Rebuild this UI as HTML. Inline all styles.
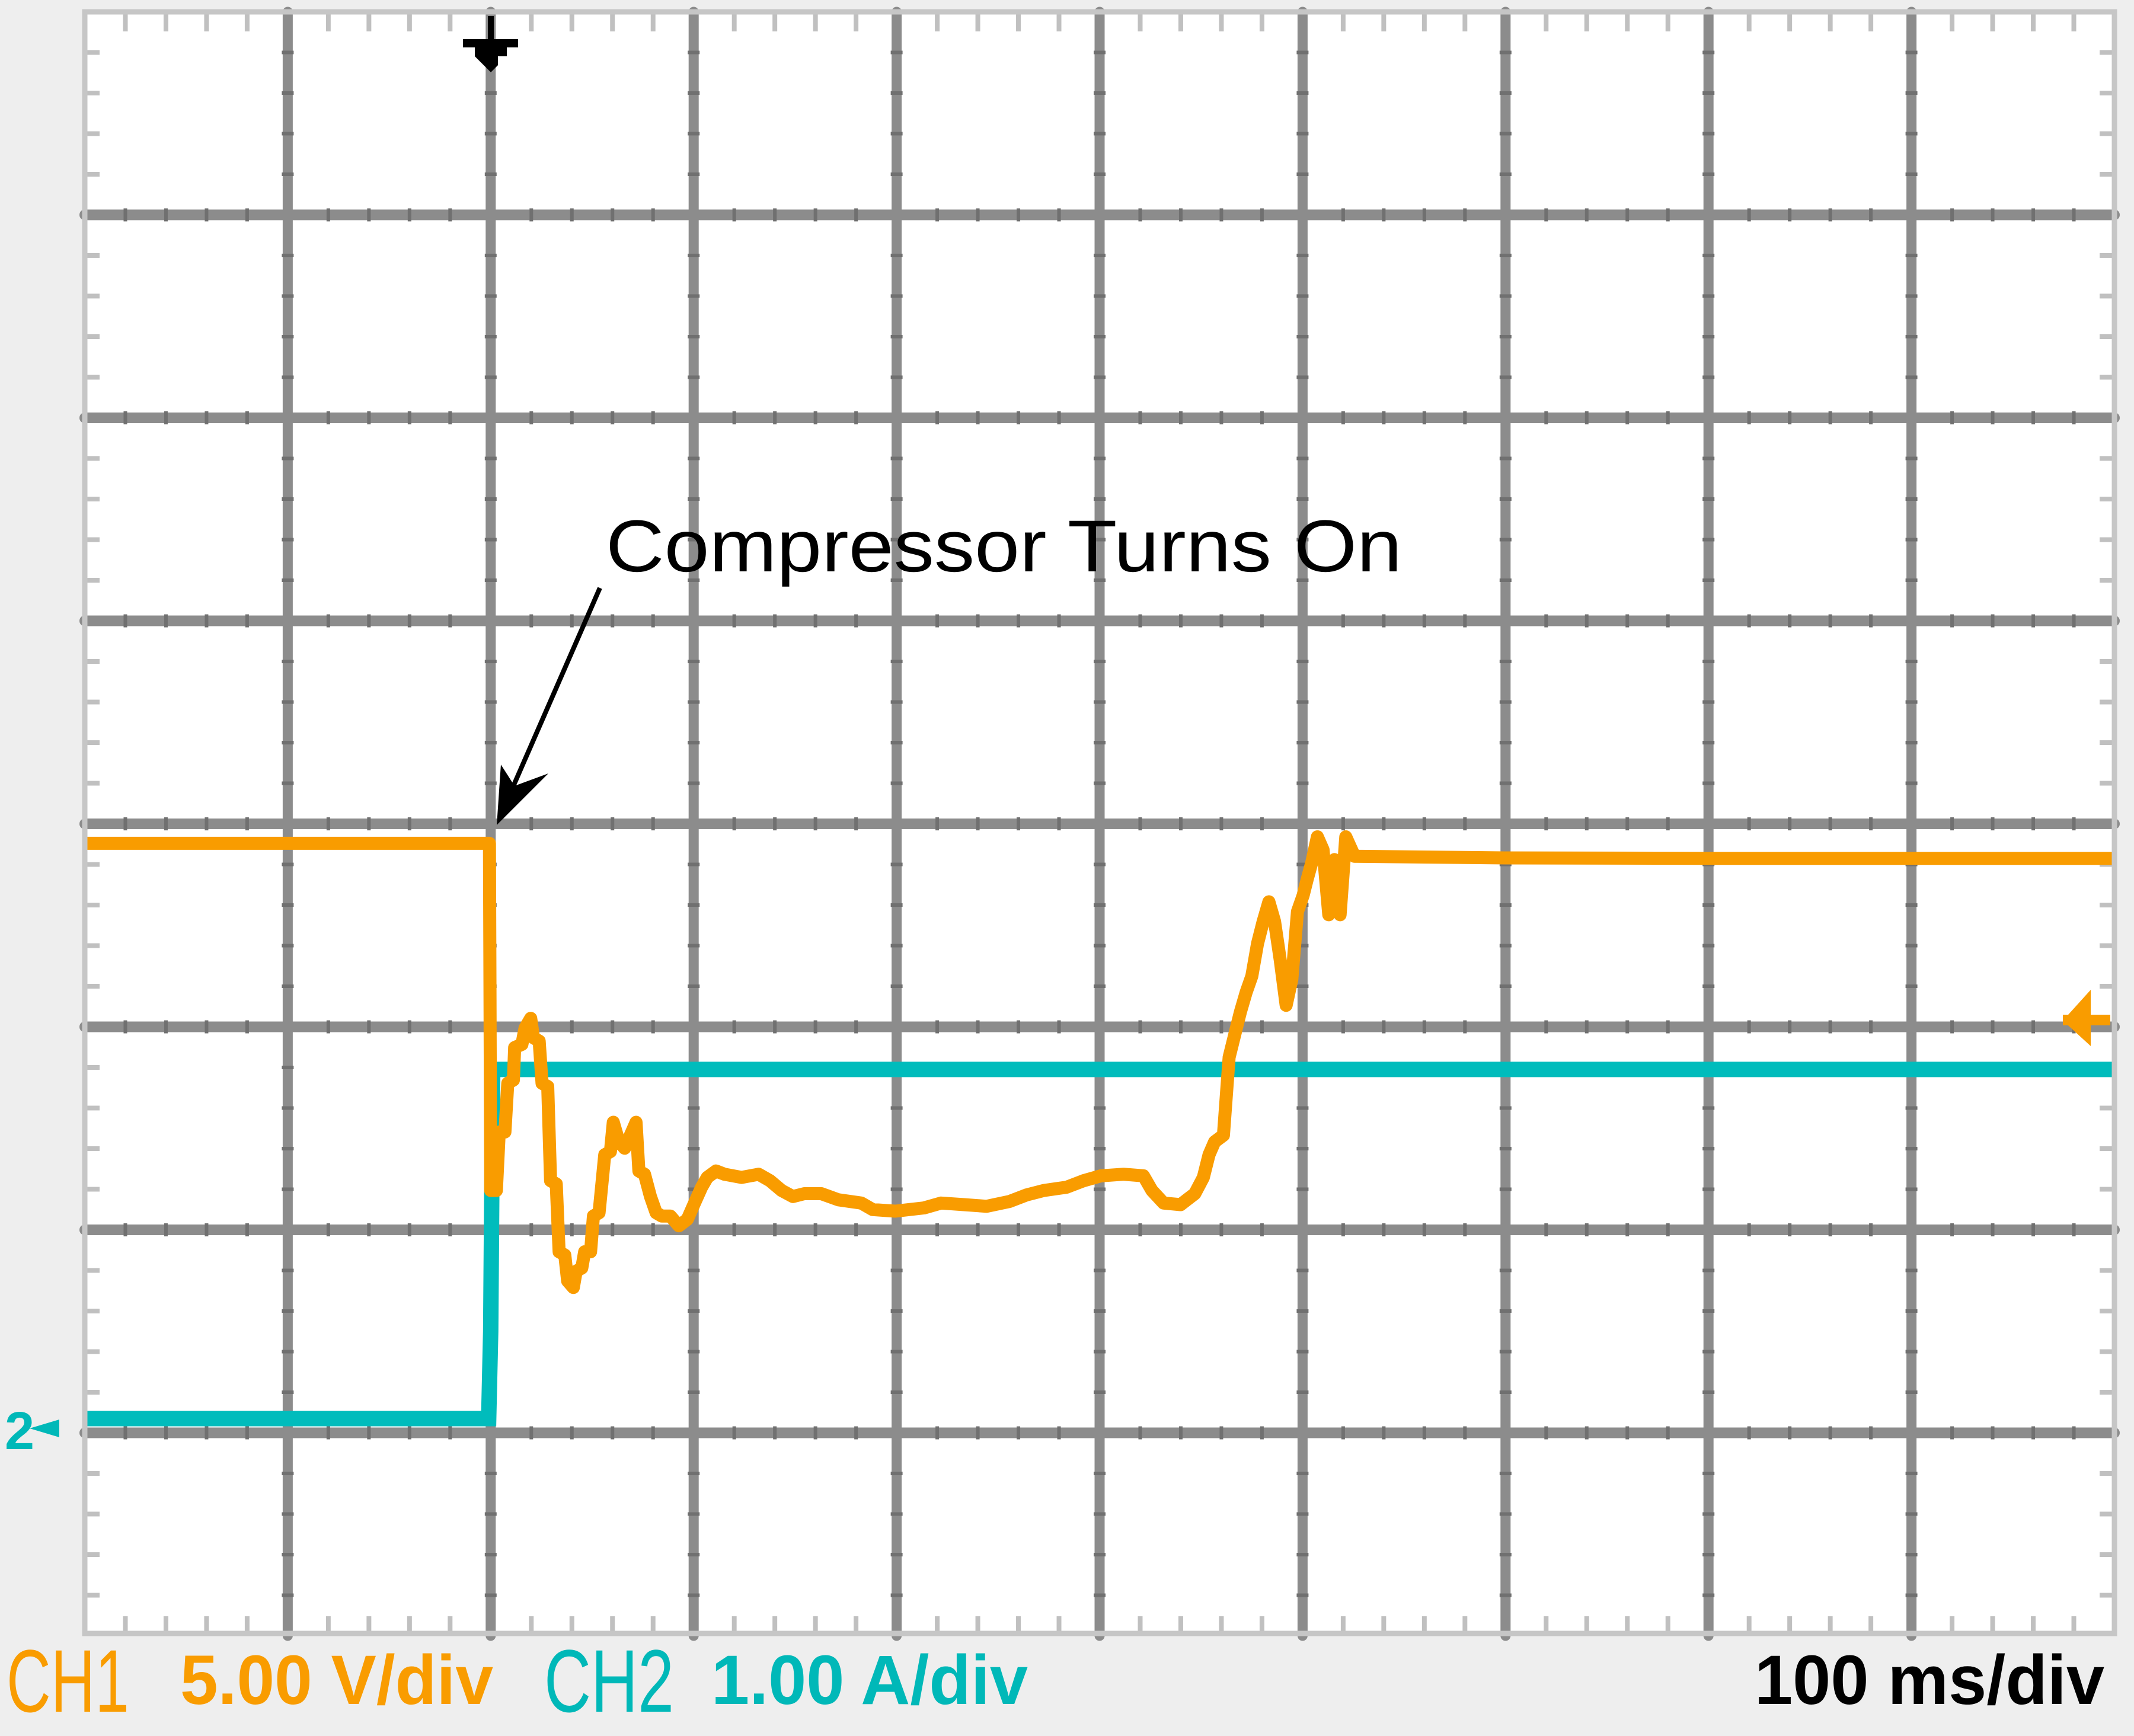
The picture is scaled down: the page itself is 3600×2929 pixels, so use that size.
<!DOCTYPE html>
<html><head><meta charset="utf-8"><style>
html,body{margin:0;padding:0;background:#eeeeee;}
svg{display:block;}
</style></head>
<body>
<svg id="scope" width="3600" height="2929" viewBox="0 0 3600 2929" xmlns="http://www.w3.org/2000/svg">
<rect x="0" y="0" width="3600" height="2929" fill="#eeeeee"/>
<rect x="143" y="20" width="3424" height="2736" fill="#ffffff"/>
<g id="grid"></g>
<g id="traces"></g>
<rect x="143" y="20" width="3424" height="2736" fill="none" stroke="#c6c6c6" stroke-width="9"/>
<g>
<line x1="828" y1="27" x2="828" y2="90" stroke="#000" stroke-width="10"/>
<polygon points="781,66 874,66 874,80 855,80 855,95 840,95 840,110 828,122 816,110 801,95 801,80 781,80" fill="#000"/>
</g>
<g>
<polygon points="3480,1722 3527,1670 3527,1765" fill="#f99c00"/>
<rect x="3480" y="1712" width="80" height="18" fill="#f99c00"/>
</g>
<g>
<text x="8" y="2445" font-family="Liberation Sans, sans-serif" font-size="90" font-weight="bold" fill="#00b8b8">2</text>
<polygon points="50,2410 100,2395 100,2425" fill="#00b8b8"/>
</g>
<g>
<text x="1022" y="964" font-family="Liberation Sans, sans-serif" font-size="124" textLength="1343" lengthAdjust="spacingAndGlyphs" fill="#000">Compressor Turns On</text>
<line x1="1012" y1="992" x2="860" y2="1340" stroke="#000" stroke-width="8"/>
<polygon points="838,1392 845,1290 868,1326 925,1305" fill="#000"/>
</g>
<text x="11" y="2888" font-family="Liberation Sans, sans-serif" font-size="150" textLength="207" lengthAdjust="spacingAndGlyphs" fill="#f99c00">CH1</text>
<text x="304" y="2875" font-family="Liberation Sans, sans-serif" font-size="118" font-weight="bold" textLength="528" lengthAdjust="spacingAndGlyphs" fill="#f99c00">5.00 V/div</text>
<text x="918" y="2888" font-family="Liberation Sans, sans-serif" font-size="150" textLength="219" lengthAdjust="spacingAndGlyphs" fill="#00b8b8">CH2</text>
<text x="1200" y="2875" font-family="Liberation Sans, sans-serif" font-size="118" font-weight="bold" textLength="534" lengthAdjust="spacingAndGlyphs" fill="#00b8b8">1.00 A/div</text>
<text x="2960" y="2875" font-family="Liberation Sans, sans-serif" font-size="118" font-weight="bold" textLength="590" lengthAdjust="spacingAndGlyphs" fill="#000">100 ms/div</text>
</svg>
<script>
// CH1 voltage (V), CH2 current (A), time (ms)
const ch1Time = [0,100,197.2,199.4,200,202.8,204.2,207.0,208.4,211.2,211.8,215.4,216.9,219.7,221.1,223.9,225.3,228.1,229.5,232.3,233.7,236.5,237.9,240.7,242.1,244.9,246.3,249.2,250.6,253.4,256.2,259.0,260.4,263.2,266.0,268.8,271.6,273.0,275.8,278.7,281.5,284.3,288.5,292.7,296.9,299.7,303.9,306.7,311.0,315.2,323.6,332.0,337.6,343.3,348.9,354.5,362.9,371.3,382.6,388.2,399.4,413.5,421.9,433.2,444.4,455.6,464.0,472.5,483.7,492.1,500.6,511.8,521.6,525.8,531.5,539.9,546.9,551.1,553.9,556.7,561.0,563.8,566.6,569.4,572.2,575.0,577.8,580.6,583.4,586.2,589.0,591.9,594.7,597.5,600.3,602.3,604.5,607.3,610.1,612.9,615.7,618.5,621.3,625.6,700,800,900,1000];
const ch1Volts = [4.52,4.52,4.52,4.52,-4.03,-4.03,-2.59,-2.59,-1.39,-1.31,-0.51,-0.43,-0.03,0.21,-0.27,-0.35,-1.39,-1.47,-3.79,-3.87,-5.54,-5.62,-6.26,-6.42,-6.02,-5.94,-5.54,-5.54,-4.66,-4.58,-3.15,-3.07,-2.35,-2.83,-2.99,-2.67,-2.35,-3.55,-3.63,-4.18,-4.58,-4.66,-4.66,-4.90,-4.74,-4.42,-3.95,-3.71,-3.55,-3.63,-3.71,-3.63,-3.79,-4.03,-4.18,-4.11,-4.11,-4.26,-4.34,-4.50,-4.54,-4.46,-4.34,-4.38,-4.42,-4.30,-4.14,-4.03,-3.95,-3.79,-3.67,-3.63,-3.67,-4.03,-4.34,-4.38,-4.11,-3.71,-3.15,-2.83,-2.67,-0.75,-0.19,0.37,0.85,1.25,2.05,2.60,3.08,2.60,1.65,0.53,1.17,2.84,3.24,3.64,4.04,4.68,4.36,2.76,4.12,2.76,4.68,4.20,4.16,4.15,4.15,4.15];
const ch2Time = [0,199,200,201,1000];
const ch2Amps = [0.07,0.07,0.5,1.79,1.79];
const divX = 342.4, divY = 342.5, x0 = 143, y0 = 20;
const xScale = t => x0 + t / 100 * divX;
const yVolt = v => y0 + (5 - v / 5) * divY;
const yAmp = a => y0 + (7 - a / 1) * divY;
const NS = 'http://www.w3.org/2000/svg';
const grid = document.getElementById('grid');
function mk(tag, attrs, parent){const e=document.createElementNS(NS,tag);for(const k in attrs)e.setAttribute(k,attrs[k]);parent.appendChild(e);return e;}
for(let i=1;i<10;i++){
  const x=x0+i*divX;
  const l=mk('line',{x1:x,y1:y0,x2:x,y2:y0+8*divY,stroke:'#8c8c8c','stroke-width':17,'stroke-linecap':'round'},grid);
  
  
}
for(let j=1;j<8;j++){
  const y=y0+j*divY;
  const l=mk('line',{x1:x0,y1:y,x2:x0+10*divX,y2:y,stroke:'#8c8c8c','stroke-width':18,'stroke-linecap':'round'},grid);
  
  
}
for(let k=1;k<50;k++){
  if(k%5===0) continue;
  const x=x0+k*divX/5;
  mk('line',{x1:x,y1:y0,x2:x,y2:y0+33,stroke:'#c0c0c0','stroke-width':8},grid);
  mk('line',{x1:x,y1:y0+8*divY-33,x2:x,y2:y0+8*divY,stroke:'#c0c0c0','stroke-width':8},grid);
  for(let j=1;j<8;j++){const y=y0+j*divY;mk('line',{x1:x,y1:y-11,x2:x,y2:y+11,stroke:'#707070','stroke-width':6},grid);}
}
for(let k=1;k<40;k++){
  if(k%5===0) continue;
  const y=y0+k*divY/5;
  mk('line',{x1:x0,y1:y,x2:x0+25,y2:y,stroke:'#c0c0c0','stroke-width':8},grid);
  mk('line',{x1:x0+10*divX-25,y1:y,x2:x0+10*divX,y2:y,stroke:'#c0c0c0','stroke-width':8},grid);
  for(let i=1;i<10;i++){const x=x0+i*divX;mk('line',{x1:x-10,y1:y,x2:x+10,y2:y,stroke:'#707070','stroke-width':6},grid);}
}
const traces=document.getElementById('traces');
let d2='';
ch2Time.forEach((t,i)=>{d2+=(i?'L':'M')+xScale(t).toFixed(1)+','+yAmp(ch2Amps[i]).toFixed(1);});
const p2=mk('path',{d:d2,fill:'none',stroke:'#00bcbc','stroke-width':26,'stroke-linejoin':'miter'},traces);


let d1='';
ch1Time.forEach((t,i)=>{d1+=(i?'L':'M')+xScale(t).toFixed(1)+','+yVolt(ch1Volts[i]).toFixed(1);});
const p1=mk('path',{d:d1,fill:'none',stroke:'#f99c00','stroke-width':22,'stroke-linejoin':'round'},traces);


</script>
</body></html>
